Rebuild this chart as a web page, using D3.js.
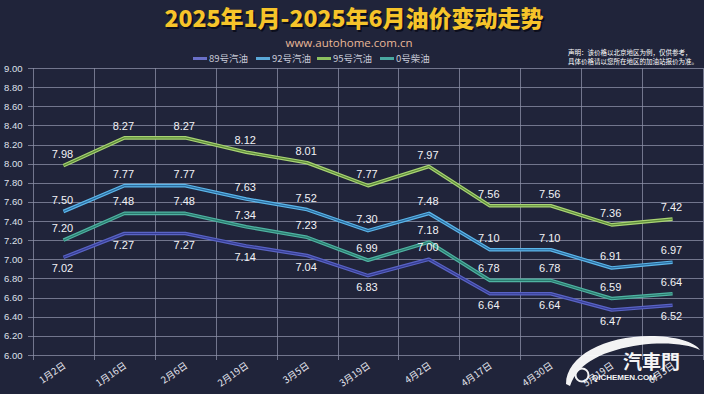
<!DOCTYPE html>
<html><head><meta charset="utf-8">
<script src="https://cdn.jsdelivr.net/npm/d3@7"></script>
<style>
html,body{margin:0;padding:0;background:#20243a;}
svg{display:block;}
</style></head>
<body>
<svg id="chart" width="704" height="394"></svg>
<script>
const categories = ["1月2日","1月16日","2月6日","2月19日","3月5日","3月19日","4月2日","4月17日","4月30日","5月19日","6月3日"];
const seriesNames = ["89号汽油","92号汽油","95号汽油","0号柴油"];
const gas89 = [7.02,7.27,7.27,7.14,7.04,6.83,7.00,6.64,6.64,6.47,6.52];
const gas92 = [7.50,7.77,7.77,7.63,7.52,7.30,7.48,7.10,7.10,6.91,6.97];
const gas95 = [7.98,8.27,8.27,8.12,8.01,7.77,7.97,7.56,7.56,7.36,7.42];
const diesel0 = [7.20,7.48,7.48,7.34,7.23,6.99,7.18,6.78,6.78,6.59,6.64];
const yTicks = [6.0,6.2,6.4,6.6,6.8,7.0,7.2,7.4,7.6,7.8,8.0,8.2,8.4,8.6,8.8,9.0];
const titleText = "2025年1月-2025年6月油价变动走势";
const subtitleText = "www.autohome.com.cn";
const noteLines = ["声明：该价格以北京地区为例，仅供参考，","具体价格请以您所在地区的加油站报价为准。"];

const styles = [
  {outer:"#5963c4", inner:"#353c92", below:true},
  {outer:"#5cb6ea", inner:"#2b6c9e", below:false},
  {outer:"#a9d473", inner:"#5d8c3a", below:false},
  {outer:"#4fb3a2", inner:"#2a7a6e", below:false}
];
const legendColors = ["#6a70c8","#5aa8d8","#8cc060","#4aa8a0"];
const values = [gas89, gas92, gas95, diesel0];

const svg = d3.select("#chart");
const W = 704, H = 394;
const m = {left:33, right:1, top:68, bottom:39};
const x = d3.scaleBand().domain(categories).range([m.left, W - m.right]).padding(0);
const y = d3.scaleLinear().domain([6, 9]).range([H - m.bottom, m.top]);

// title
const tg = svg.append("g");
tg.append("text").attr("x", 354).attr("y", 27).attr("text-anchor","middle")
  .attr("font-family","'Noto Sans CJK SC','Noto Sans',sans-serif").attr("font-weight","900")
  .attr("font-size", 23).attr("fill","#0c0e1c").attr("transform","translate(1.5,1.5)").text(titleText);
tg.append("text").attr("x", 354).attr("y", 27).attr("text-anchor","middle")
  .attr("font-family","'Noto Sans CJK SC','Noto Sans',sans-serif").attr("font-weight","900")
  .attr("font-size", 23).attr("fill","#f6c42a").text(titleText);
svg.append("text").attr("x", 349).attr("y", 47).attr("text-anchor","middle")
  .attr("font-family","'Open Sans','Noto Sans',sans-serif").attr("font-size", 11.5)
  .attr("fill","#e9b898").text(subtitleText);

// note
const nt = svg.append("g").attr("font-family","'Noto Sans CJK SC',sans-serif").attr("font-size",6.5).attr("fill","#ffffff");
nt.append("text").attr("x", 568).attr("y", 55).text(noteLines[0]);
nt.append("text").attr("x", 568).attr("y", 63.5).text(noteLines[1]);

// legend
const legX = [193, 256, 317, 380];
const lg = svg.append("g").attr("font-family","'Noto Sans CJK SC',sans-serif").attr("font-size",9.5);
seriesNames.forEach((n,i)=>{
  lg.append("line").attr("x1",legX[i]).attr("x2",legX[i]+14).attr("y1",58.5).attr("y2",58.5)
    .attr("stroke",legendColors[i]).attr("stroke-width",3);
  lg.append("text").attr("x",legX[i]+16).attr("y",62.2).attr("fill","#c9cbd8").text(n);
});

// grid
const grid = svg.append("g");
grid.selectAll("line.h").data(yTicks).join("line")
  .attr("x1", m.left - 5).attr("x2", W - m.right)
  .attr("y1", d=>Math.round(y(d))+0.5).attr("y2", d=>Math.round(y(d))+0.5)
  .attr("stroke","#8e92aa").attr("stroke-opacity",0.75).attr("stroke-width",1);
const bounds = categories.map(c=>x(c)).concat([W - m.right]);
grid.selectAll("line.v").data(bounds).join("line")
  .attr("x1", d=>Math.round(d)+0.5).attr("x2", d=>Math.round(d)+0.5)
  .attr("y1", m.top).attr("y2", H - m.bottom + 5)
  .attr("stroke","#8e92aa").attr("stroke-opacity",0.75).attr("stroke-width",1);

// y axis labels
svg.append("g").selectAll("text").data(yTicks).join("text")
  .attr("x", 4).attr("y", d=>y(d)+3.5)
  .attr("font-family","'Liberation Sans',Arial,sans-serif").attr("font-size",9.5)
  .attr("fill","#dfe0ea").text(d=>d.toFixed(2));

// x axis labels
svg.append("g").selectAll("text").data(categories).join("text")
  .attr("transform", d=>`translate(${x(d)+x.bandwidth()/2+3},${H - m.bottom + 12}) rotate(-35)`)
  .attr("text-anchor","end")
  .attr("font-family","'Noto Sans CJK SC',sans-serif").attr("font-size",9.5)
  .attr("fill","#e4e5ee").text(d=>d);

// lines
const line = d3.line().x((d,i)=>x(categories[i])+x.bandwidth()/2).y(d=>y(d));
const drawOrder = [0,3,1,2];
drawOrder.forEach(si=>{
  const g = svg.append("g");
  g.append("path").datum(values[si]).attr("d", line).attr("fill","none")
    .attr("stroke", styles[si].outer).attr("stroke-width",3.6).attr("stroke-linejoin","round");
  g.append("path").datum(values[si]).attr("d", line).attr("fill","none")
    .attr("stroke", styles[si].inner).attr("stroke-width",1.2).attr("stroke-linejoin","round");
});

// labels
const labelsAbove89 = [6];
values.forEach((vals,si)=>{
  svg.append("g").selectAll("text").data(vals).join("text")
    .attr("x",(d,i)=>x(categories[i])+x.bandwidth()/2 - 1)
    .attr("y",(d,i)=>{
      const below = styles[si].below && !labelsAbove89.includes(i);
      return below ? y(d)+15 : y(d)-8;
    })
    .attr("text-anchor","middle")
    .attr("font-family","'Liberation Sans',Arial,sans-serif").attr("font-size",11)
    .attr("fill","#f2f2f6").text(d=>d.toFixed(2));
});

// watermark
const wm = svg.append("g").attr("opacity",0.95);
wm.append("path").attr("d","M566,384 C566,356 605,336 650,336 C675,336 695,342 700,350 C688,344 665,342 640,345 C605,350 578,362 570,386 Z")
  .attr("fill","#ffffff");
wm.append("circle").attr("cx",582).attr("cy",375).attr("r",6.5).attr("fill","none").attr("stroke","#ffffff").attr("stroke-width",2);
wm.append("text").attr("x",623).attr("y",369).attr("text-anchor","start")
  .attr("font-family","'Noto Sans CJK TC',sans-serif").attr("font-weight","bold").attr("font-size",19)
  .attr("fill","#ffffff").text("汽車門");
wm.append("text").attr("x",592).attr("y",380)
  .attr("font-family","'Liberation Sans',sans-serif").attr("font-weight","bold").attr("font-size",8)
  .attr("fill","#ffffff").text("QICHEMEN.COM");
</script>
</body></html>
